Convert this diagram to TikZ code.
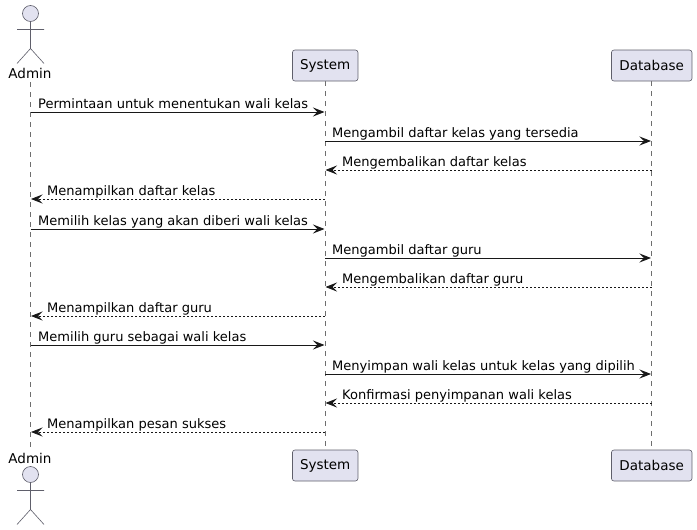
\documentclass[tikz,border=0pt]{standalone}
\usepackage{fontspec}
\setmainfont{DejaVu Sans}
\usetikzlibrary{arrows.meta}
\definecolor{partfill}{HTML}{E2E2F0}
\definecolor{partline}{HTML}{5F5F6B}
\definecolor{lifeline}{HTML}{6E6E6E}
\definecolor{msgline}{HTML}{181818}
\tikzset{
  x=1pt,y=-1pt,
  participant/.style={draw=partline,fill=partfill,rounded corners=2.5pt,line width=0.6pt,minimum height=31pt,inner sep=0pt,font=\fontsize{13.5}{16}\selectfont,text=black,anchor=center},
  actorlabel/.style={inner sep=0pt,font=\fontsize{13.5}{16}\selectfont,text=black,anchor=center},
  lifelinestyle/.style={draw=lifeline,line width=0.6pt,dash pattern=on 5pt off 5pt},
  actorline/.style={draw=partline,line width=0.6pt},
  actorhead/.style={draw=partline,fill=partfill,line width=0.6pt},
  call/.style={draw=msgline,line width=0.9pt,-{Stealth[length=11.5pt,width=9pt,inset=4.5pt]}},
  reply/.style={draw=msgline,line width=0.8pt,dash pattern=on 2pt off 2pt,-{Stealth[length=11.5pt,width=9pt,inset=4.5pt]}},
  msg/.style={inner sep=0pt,anchor=base west,font=\fontsize{13.03}{15}\selectfont,text=black},
}
\newcommand{\stick}[2]{%
  \draw[actorhead] (#1,#2) circle[radius=8];
  \draw[actorline] (#1,#2+8) -- (#1,#2+35)
    (#1-13.5,#2+16) -- (#1+13.5,#2+16)
    (#1-13.5,#2+50) -- (#1,#2+35) -- (#1+13.5,#2+50);
}
\newcommand{\call}[5]{% from, to, y, textx, text
  \coordinate (f#3) at (#1,#3);
  \coordinate (t#3) at (#2,#3);
  \draw[call] (f#3) -- (t#3);
  \node[msg] at (#4,#3-4) {#5};
}
\newcommand{\reply}[5]{%
  \coordinate (f#3) at (#1,#3);
  \coordinate (t#3) at (#2,#3);
  \draw[reply] (f#3) -- (t#3);
  \node[msg] at (#4,#3-4) {#5};
}
\begin{document}
\begin{tikzpicture}
\useasboundingbox (0,0) rectangle (697,530);
\coordinate (adminTop) at (30.5,82);
\coordinate (adminBot) at (30.5,448);
\coordinate (systemTop) at (325,81);
\coordinate (systemBot) at (325,450);
\coordinate (dbTop) at (651.5,81);
\coordinate (dbBot) at (651.5,450);
\draw[lifelinestyle] (adminTop) -- (adminBot);
\draw[lifelinestyle] (systemTop) -- (systemBot);
\draw[lifelinestyle] (dbTop) -- (dbBot);
\stick{30.5}{13.5}
\stick{30.5}{474.5}
\node[actorlabel] (adminT) at (30,73.3) {Admin};
\node[actorlabel] (adminB) at (30,458.3) {Admin};
\node[participant,minimum width=65.5pt] (systemT) at (325.2,65.5) {\raisebox{-0.6pt}{System}};
\node[participant,minimum width=65.5pt] (systemB) at (325.2,465.5) {\raisebox{-0.6pt}{System}};
\node[participant,minimum width=80.5pt] (dbT) at (651.7,65.5) {\raisebox{-0.6pt}{Database}};
\node[participant,minimum width=80.5pt] (dbB) at (651.7,465.5) {\raisebox{-0.6pt}{Database}};
\call{30.5}{324.5}{112}{38}{Permintaan untuk menentukan wali kelas}
\call{325}{651}{141}{332}{Mengambil daftar kelas yang tersedia}
\reply{651.5}{325.5}{170}{342}{Mengembalikan daftar kelas}
\reply{325}{31}{199}{47}{Menampilkan daftar kelas}
\call{30.5}{324.5}{229}{38}{Memilih kelas yang akan diberi wali kelas}
\call{325}{651}{258}{332}{Mengambil daftar guru}
\reply{651.5}{325.5}{287}{342}{Mengembalikan daftar guru}
\reply{325}{31}{316}{47}{Menampilkan daftar guru}
\call{30.5}{324.5}{345}{38}{Memilih guru sebagai wali kelas}
\call{325}{651}{374}{332}{Menyimpan wali kelas untuk kelas yang dipilih}
\reply{651.5}{325.5}{403}{342}{Konfirmasi penyimpanan wali kelas}
\reply{325}{31}{432}{47}{Menampilkan pesan sukses}
\end{tikzpicture}
\end{document}
